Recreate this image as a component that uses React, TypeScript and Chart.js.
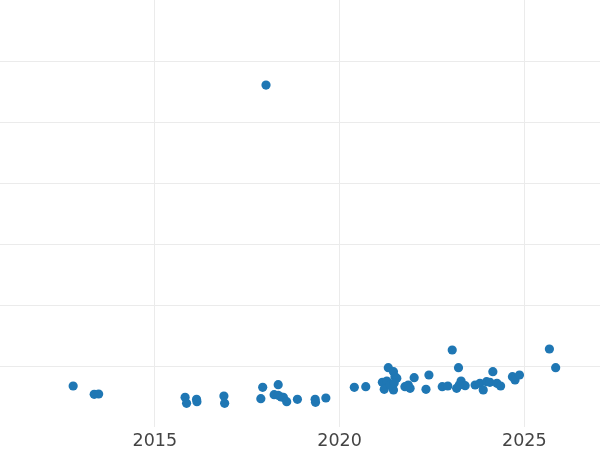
import React, { useEffect, useRef } from "react";
import { Chart, registerables } from "chart.js";

Chart.register(...registerables);

// Decimal year of each point
const years: number[] = [
  2012.79, 2013.36, 2013.48, 2015.82, 2015.86, 2016.13, 2016.14, 2016.87, 2016.89,
  2017.87, 2017.92, 2018.01, 2018.23, 2018.34, 2018.34, 2018.42, 2018.48, 2018.57,
  2018.86, 2019.34, 2019.35, 2019.63, 2020.40, 2020.71, 2021.32, 2021.46, 2021.50,
  2021.16, 2021.28, 2021.21, 2021.46, 2021.55, 2021.37, 2021.48, 2021.77, 2021.86,
  2021.91, 2022.02, 2022.42, 2022.34, 2022.78, 2022.93, 2023.05, 2023.22, 2023.17,
  2023.29, 2023.40, 2023.24, 2023.67, 2023.80, 2023.89, 2023.98, 2024.07, 2024.15,
  2024.26, 2024.36, 2024.68, 2024.75, 2024.87, 2025.68, 2025.85,
];

// Value of each point
const values: number[] = [
  13.44, 10.72, 10.82, 9.74, 7.77, 9.08, 8.30, 10.16, 7.77,
  9.28, 13.02, 112.1, 10.59, 13.87, 10.39, 9.84, 9.74, 8.30,
  9.08, 9.08, 8.10, 9.51, 13.02, 13.21, 19.44, 18.13, 16.49,
  14.66, 15.08, 12.36, 12.13, 15.97, 13.77, 14.43, 13.21, 13.77,
  12.69, 16.17, 17.05, 12.36, 13.21, 13.44, 25.25, 19.44, 12.69,
  15.08, 13.54, 13.77, 13.77, 14.33, 12.13, 14.85, 14.66, 18.13,
  14.33, 13.44, 16.49, 15.41, 17.05, 25.58, 19.44,
];

const xMin = 2010.81;
const xMax = 2027.05;
const yMin = 0;
const yMax = 140;

export default function App() {
  const ref = useRef<HTMLCanvasElement | null>(null);

  useEffect(() => {
    if (!ref.current) return;
    const data = years.map((x, i) => ({ x, y: values[i] }));
    const chart = new Chart(ref.current, {
      type: "scatter",
      data: {
        datasets: [
          {
            data,
            backgroundColor: "#1f77b4",
            borderWidth: 0,
            pointRadius: 4.6,
            pointHoverRadius: 4.6,
          },
        ],
      },
      options: {
        animation: false,
        responsive: false,
        maintainAspectRatio: false,
        layout: { padding: 0, autoPadding: false },
        plugins: { legend: { display: false }, tooltip: { enabled: false } },
        scales: {
          x: {
            type: "linear",
            min: xMin,
            max: xMax,
            border: { display: false },
            grid: { color: "#ebebeb", lineWidth: 1, drawTicks: false },
            ticks: {
              stepSize: 5,
              includeBounds: false,
              padding: 4,
              color: "#444444",
              font: { family: "DejaVu Sans", size: 17.5 },
              callback: (v: any) => String(Math.round(Number(v))),
              maxRotation: 0,
            },
            afterFit: (scale: any) => {
              scale.height = 23;
            },
          },
          y: {
            type: "linear",
            min: yMin,
            max: yMax,
            border: { display: false },
            grid: {
              drawTicks: false,
              color: (ctx: any) =>
                ctx.tick && (ctx.tick.value === yMin || ctx.tick.value === yMax)
                  ? "rgba(0,0,0,0)"
                  : "#ebebeb",
              lineWidth: 1,
            },
            ticks: { display: false, stepSize: 20 },
            afterFit: (scale: any) => {
              scale.width = 0;
            },
          },
        },
      },
    });
    return () => chart.destroy();
  }, []);

  return (
    <div style={{ position: "fixed", left: 0, top: 0, width: 600, height: 450, background: "#fff" }}>
      <canvas ref={ref} width={600} height={450} style={{ display: "block" }} />
    </div>
  );
}
